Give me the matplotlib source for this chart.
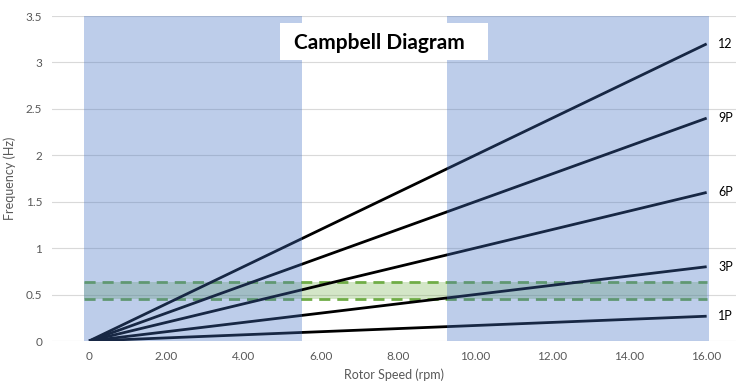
import matplotlib
matplotlib.use("Agg")
import matplotlib.pyplot as plt
from matplotlib.patches import Rectangle

plt.rcParams['font.family'] = ['Lato', 'DejaVu Sans']

speed = [0, 16]
series_names = ["1P", "3P", "6P", "9P", "12"]
series_values = [
    [0, 0.267],
    [0, 0.8],
    [0, 1.6],
    [0, 2.4],
    [0, 3.2],
]
band_low, band_high = 0.45, 0.635
blue_ranges = [(-0.13, 5.52), (9.27, 16.05)]
x_ticks = [0, 2, 4, 6, 8, 10, 12, 14, 16]
x_tick_labels = ["0", "2.00", "4.00", "6.00", "8.00", "10.00", "12.00", "14.00", "16.00"]
y_ticks = [0, 0.5, 1, 1.5, 2, 2.5, 3, 3.5]
y_tick_labels = ["0", "0.5", "1", "1.5", "2", "2.5", "3", "3.5"]

W, H = 736, 387
fig = plt.figure(figsize=(W/100, H/100), dpi=100)
ax = fig.add_axes([52/W, (H-341)/H, (736-52)/W, (341-16)/H])
ax.set_xlim(-0.96, 16.76)
ax.set_ylim(0, 3.5)

for s in ax.spines.values():
    s.set_visible(False)
ax.set_yticks(y_ticks)
ax.set_yticklabels(y_tick_labels)
ax.set_xticks(x_ticks)
ax.set_xticklabels(x_tick_labels)
ax.tick_params(length=0, labelsize=8.5, labelcolor="#595959", pad=7)
ax.grid(axis='y', color="#d9d9d9", linewidth=0.8, zorder=0)
ax.set_axisbelow(True)

# green band
ax.fill_between([blue_ranges[0][0], 16.0], band_low, band_high, color="#70AD47", alpha=0.3, linewidth=0, zorder=1)
for yv in (band_low, band_high):
    ax.plot([blue_ranges[0][0], 16.0], [yv, yv], color="#70AD47", linewidth=2.0,
            dashes=(4, 2.5), zorder=2)

for name, vals in zip(series_names, series_values):
    ax.plot(speed, vals, color="black", linewidth=2.0, zorder=3, solid_capstyle='butt')
    ax.text(16.3, vals[-1], name, fontsize=9, color="black", va='center', ha='left', zorder=5)

for x0, x1 in blue_ranges:
    ax.axvspan(x0, x1, ymin=0, ymax=1, color="#4472C4", alpha=0.35, linewidth=0, zorder=4)

ax.set_xlabel("Rotor Speed (rpm)", fontsize=9, color="#595959", labelpad=5)
ax.set_ylabel("Frequency (Hz)", fontsize=9, color="#595959", labelpad=7)

# title box
fig.patches.append(Rectangle((280/W, (H-60)/H), (488-280)/W, 37/H, transform=fig.transFigure,
                             facecolor="white", edgecolor="none", zorder=10))
fig.text(379/W, (H-43)/H, "Campbell Diagram", fontsize=15, fontweight='bold',
         ha='center', va='center', color="black", zorder=11)

fig.savefig("out.png", dpi=100)
